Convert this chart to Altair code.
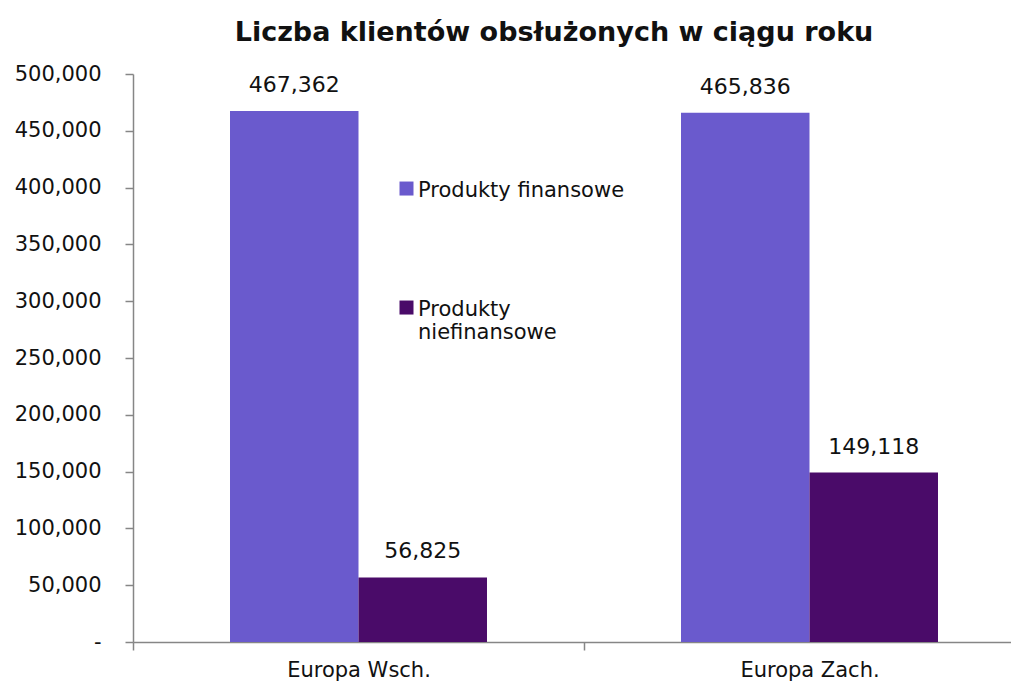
import altair as alt
import pandas as pd

regions = ["Europa Wsch.", "Europa Zach."]
series = ["Produkty finansowe", "Produkty niefinansowe"]
finansowe = [467362, 465836]
niefinansowe = [56825, 149118]
colors = ["#6a5acd", "#4a0b69"]
y_ticks = [0, 50000, 100000, 150000, 200000, 250000, 300000, 350000, 400000, 450000, 500000]

rows = []
for i, r in enumerate(regions):
    rows.append({"region": r, "series": series[0], "value": finansowe[i]})
    rows.append({"region": r, "series": series[1], "value": niefinansowe[i]})
df = pd.DataFrame(rows)

FONT = "DejaVu Sans"
AXIS_COL = "#868686"

x_enc = alt.X(
    "region:N",
    sort=regions,
    scale=alt.Scale(paddingInner=0, paddingOuter=0, range=[0, 902]),
    axis=alt.Axis(
        title=None, labelAngle=0, tickBand="extent", tickSize=8, tickColor=AXIS_COL,
        tickWidth=1.5, domainColor=AXIS_COL, domainWidth=1.5, labelFontSize=21,
        labelFont=FONT, labelColor="#111111", labelPadding=9, grid=False,
    ),
)
xoff_enc = alt.XOffset("series:N", sort=series, scale=alt.Scale(paddingOuter=0.755, paddingInner=0))
y_enc = alt.Y(
    "value:Q",
    scale=alt.Scale(domain=[0, 500000], nice=False),
    axis=alt.Axis(
        title=None, values=y_ticks, tickSize=8, tickColor=AXIS_COL, tickWidth=1.5,
        domainColor=AXIS_COL, domainWidth=1.5, labelFontSize=21, labelFont=FONT,
        labelColor="#111111", labelPadding=24, grid=False,
        labelExpr="datum.value == 0 ? '-\u2002\u2002' : format(datum.value, ',')",
    ),
)

bars = alt.Chart(df).mark_bar(size=128.5).encode(
    x=x_enc,
    xOffset=xoff_enc,
    y=y_enc,
    color=alt.Color(
        "series:N",
        sort=series,
        scale=alt.Scale(domain=series, range=colors),
        legend=alt.Legend(
            title=None, orient="none", legendX=263, legendY=95,
            symbolType="M-1,0.29H1V2.29H-1Z", symbolSize=196, symbolStrokeWidth=0,
            labelBaseline="top", labelFont=FONT, labelFontSize=21, labelColor="#111111",
            labelLimit=400, rowPadding=87, labelOffset=1,
            labelExpr="datum.label == 'Produkty niefinansowe' ? ['Produkty', 'niefinansowe'] : datum.label",
        ),
    ),
)

labels = alt.Chart(df).mark_text(
    dy=-19, baseline="alphabetic", align="center", fontSize=22, font=FONT, color="#111111"
).encode(
    x=alt.X("region:N", sort=regions),
    xOffset=alt.XOffset("series:N", sort=series),
    y=alt.Y("value:Q"),
    text=alt.Text("value:Q", format=","),
)

chart = (
    alt.layer(bars, labels)
    .properties(
        width=878,
        height=568,
        autosize=alt.AutoSizeParams(type="none"),
        padding={"left": 125, "top": 66, "right": 0, "bottom": 39},
        title=alt.TitleParams(
            "Liczba klientów obsłużonych w ciągu roku",
            font=FONT, fontSize=27, fontWeight="bold", color="#111111",
            anchor="middle", dx=-18, offset=16,
        ),
    )
    .configure_view(stroke=None)
)

chart.save("out.html", embed_options={"renderer": "svg", "actions": False})
